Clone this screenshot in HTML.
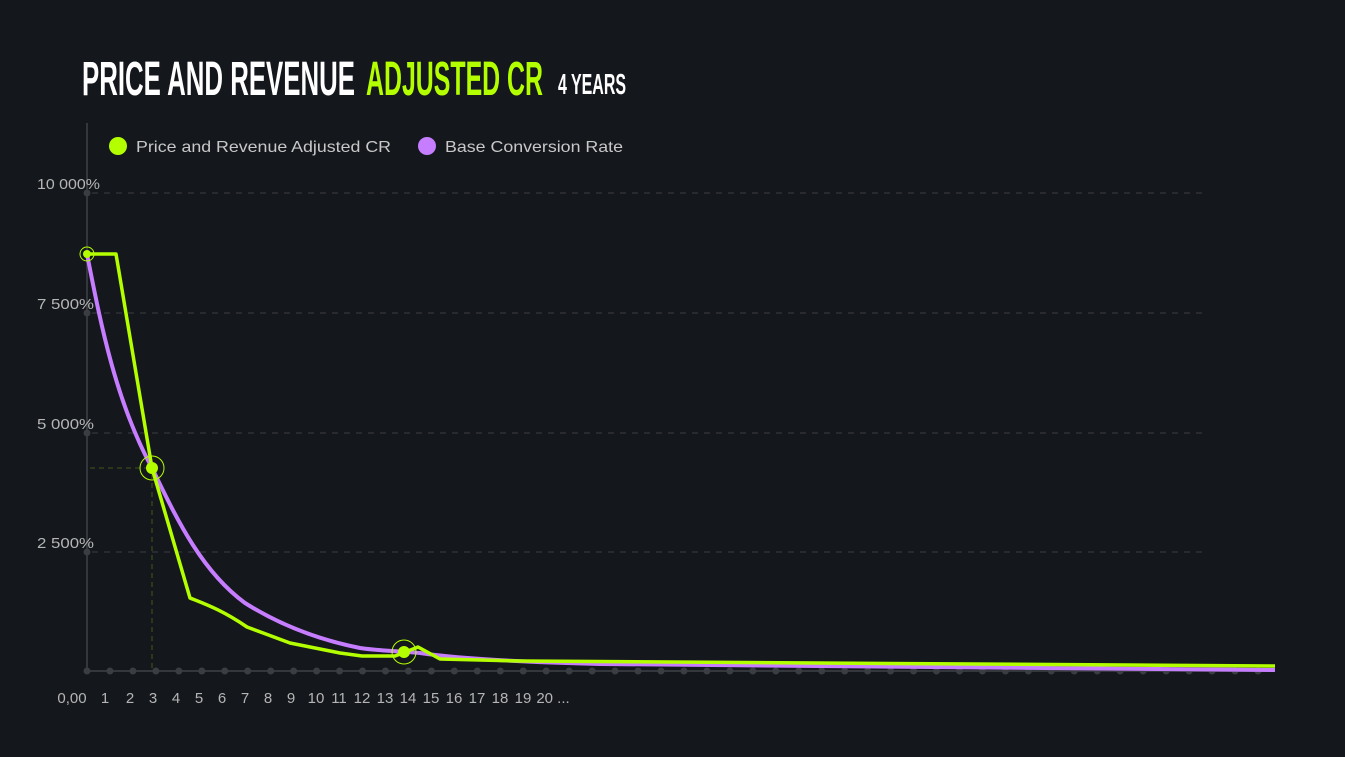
<!DOCTYPE html>
<html><head><meta charset="utf-8"><style>
html,body{margin:0;padding:0;background:#14171c;width:1345px;height:757px;overflow:hidden}
</style></head><body>
<svg width="1345" height="757" xmlns="http://www.w3.org/2000/svg" style="position:absolute;left:0;top:0">
<rect width="1345" height="757" fill="#14171c"/>
<g font-family="Liberation Sans, sans-serif" font-weight="bold">
<text x="82" y="95" font-size="48" fill="#ffffff" textLength="273" lengthAdjust="spacingAndGlyphs">PRICE AND REVENUE</text>
<text x="366" y="95" font-size="48" fill="#b3ff00" textLength="177" lengthAdjust="spacingAndGlyphs">ADJUSTED CR</text>
<text x="558" y="94" font-size="29" fill="#ffffff" textLength="68" lengthAdjust="spacingAndGlyphs">4 YEARS</text>
</g>
<line x1="87" y1="123" x2="87" y2="671" stroke="#34373c" stroke-width="2"/>
<g stroke="#34373c" stroke-width="1.3" stroke-dasharray="6 6">
<line x1="92" y1="193" x2="1205" y2="193"/>
<line x1="92" y1="313" x2="1205" y2="313"/>
<line x1="92" y1="433" x2="1205" y2="433"/>
<line x1="92" y1="552" x2="1205" y2="552"/>
</g>
<g fill="#3a3d42"><circle cx="87" cy="193" r="3.5"/><circle cx="87" cy="313" r="3.5"/><circle cx="87" cy="433" r="3.5"/><circle cx="87" cy="552" r="3.5"/></g>
<line x1="87" y1="671" x2="1275" y2="671" stroke="#34373c" stroke-width="2"/>
<g fill="#3a3d42" id="dots"></g>
<g stroke="#3a4a1a" stroke-width="1.3" stroke-dasharray="5 4">
<line x1="90" y1="468" x2="146" y2="468"/>
<line x1="152" y1="474" x2="152" y2="668"/>
</g>
<g font-family="Liberation Sans, sans-serif" font-size="15" fill="#b5b5b5">
<text x="37" y="189" textLength="63" lengthAdjust="spacingAndGlyphs">10 000%</text>
<text x="37" y="309" textLength="57" lengthAdjust="spacingAndGlyphs">7 500%</text>
<text x="37" y="429" textLength="57" lengthAdjust="spacingAndGlyphs">5 000%</text>
<text x="37" y="548" textLength="57" lengthAdjust="spacingAndGlyphs">2 500%</text>
</g>
<g font-family="Liberation Sans, sans-serif" font-size="15" fill="#b5b5b5" text-anchor="middle" id="xl"></g>
<circle cx="118" cy="146" r="9" fill="#b3ff00"/>
<text x="136" y="152" font-family="Liberation Sans, sans-serif" font-size="16" fill="#c8c8c8" textLength="255" lengthAdjust="spacingAndGlyphs">Price and Revenue Adjusted CR</text>
<circle cx="427" cy="146" r="9" fill="#c77dff"/>
<text x="445" y="152" font-family="Liberation Sans, sans-serif" font-size="16" fill="#c8c8c8" textLength="178" lengthAdjust="spacingAndGlyphs">Base Conversion Rate</text>
<path d="M87,254 C100,320 115,400 152,468 C175,515 200,570 245,603 C280,625 320,640 360,648 C380,651 400,651 420,653 C460,659 520,662 600,664 L1275,670" fill="none" stroke="#c77dff" stroke-width="4"/>
<path d="M87,254 L116,254 L152,468 L190,598 C205,604 222,610 247,627 L290,643 L340,653 L362,656 L395,656 L408,651 L418,647 L440,659 L520,661 L1275,666" fill="none" stroke="#b3ff00" stroke-width="3.5" stroke-linejoin="round"/>
<circle cx="87" cy="254" r="4" fill="#b3ff00"/><circle cx="87" cy="254" r="7" fill="none" stroke="#b3ff00" stroke-width="1"/>
<circle cx="152" cy="468" r="6" fill="#b3ff00"/><circle cx="152" cy="468" r="12" fill="none" stroke="#b3ff00" stroke-width="1"/>
<circle cx="404" cy="652" r="6" fill="#b3ff00"/><circle cx="404" cy="652" r="12" fill="none" stroke="#b3ff00" stroke-width="1"/>
</svg>
<script>
var ns="http://www.w3.org/2000/svg",d=document.getElementById("dots");
for(var i=0;i<52;i++){var c=document.createElementNS(ns,"circle");c.setAttribute("cx",87+i*22.96);c.setAttribute("cy",671);c.setAttribute("r",3.5);d.appendChild(c);}
var xl=document.getElementById("xl"),labs=["0,00","1","2","3","4","5","6","7","8","9","10","11","12","13","14","15","16","17","18","19","20 ..."],xs=[72,105,130,153,176,199,222,245,268,291,316,339,362,385,408,431,454,477,500,523,553];
for(var i=0;i<labs.length;i++){var t=document.createElementNS(ns,"text");t.setAttribute("x",xs[i]);t.setAttribute("y",703);t.textContent=labs[i];xl.appendChild(t);}
</script>
</body></html>
